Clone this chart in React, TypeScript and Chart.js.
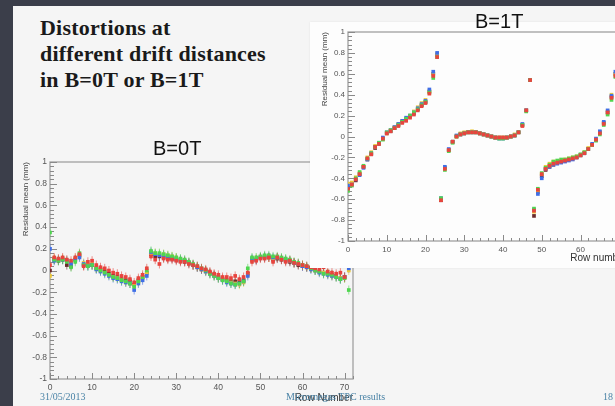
import React, { useEffect, useRef } from "react";
import { Chart, registerables } from "chart.js";
Chart.register(...registerables);

// ---------- data: B=0T (residual mean, mm, per row 0..71) ----------
const b0Red = [
  0.05, 0.12, 0.11, 0.12, 0.10, 0.09, 0.12, 0.15, 0.04, 0.08,
  0.09, 0.05, 0.03, 0.02, 0.00, -0.02, -0.03, -0.05, -0.06, -0.08,
  -0.11, -0.07, -0.04, 0.02, 0.13, 0.10, 0.06, 0.11, 0.10, 0.10,
  0.09, 0.08, 0.08, 0.06, 0.05, 0.04, 0.02, 0.01, -0.01, -0.03,
  -0.04, -0.06, -0.06, -0.07, -0.05, -0.08, -0.06, -0.02, 0.08, 0.09,
  0.11, 0.11, 0.12, 0.08, 0.12, 0.10, 0.08, 0.09, 0.07, 0.06,
  0.05, 0.04, 0.03, 0.02, 0.01, 0.03, -0.01, -0.02, -0.03, -0.02,
  -0.06, 0.05,
];
const b0Green = [
  0.35, 0.10, 0.09, 0.10, 0.08, 0.03, 0.08, 0.16, 0.05, 0.04,
  0.05, 0.02, 0.00, -0.02, -0.04, -0.06, -0.07, -0.09, -0.10, -0.12,
  -0.15, -0.10, -0.06, 0.00, 0.18, 0.16, 0.16, 0.15, 0.14, 0.13,
  0.12, 0.11, 0.10, 0.08, 0.06, 0.04, 0.02, 0.00, -0.03, -0.05,
  -0.07, -0.09, -0.10, -0.12, -0.13, -0.12, -0.10, 0.02, 0.12, 0.12,
  0.13, 0.14, 0.14, 0.13, 0.13, 0.12, 0.11, 0.10, 0.08, 0.07,
  0.05, 0.04, 0.02, 0.00, -0.01, -0.03, -0.03, -0.04, -0.06, -0.08,
  -0.07, -0.18,
];
const b0Blue = [
  0.20, 0.09, 0.10, 0.10, 0.09, 0.06, 0.10, 0.12, 0.06, 0.04,
  0.05, 0.01, -0.01, -0.03, -0.05, -0.07, -0.08, -0.10, -0.11, -0.12,
  -0.18, -0.12, -0.09, -0.05, 0.17, 0.15, 0.14, 0.14, 0.13, 0.12,
  0.11, 0.10, 0.09, 0.07, 0.05, 0.03, 0.01, -0.01, -0.03, -0.05,
  -0.07, -0.09, -0.11, -0.12, -0.13, -0.12, -0.10, -0.05, 0.11, 0.10,
  0.12, 0.13, 0.13, 0.12, 0.12, 0.11, 0.10, 0.09, 0.07, 0.06,
  0.04, 0.03, 0.01, 0.00, -0.02, -0.03, -0.04, -0.05, -0.06, -0.08,
  -0.06, 0.02,
];
const b0Yellow = [
  -0.05, 0.11, 0.10, 0.11, 0.09, 0.07, 0.11, 0.13, 0.07, 0.05,
  0.06, 0.02, 0.00, -0.02, -0.04, -0.06, -0.07, -0.09, -0.11, -0.12,
  -0.14, -0.11, -0.07, -0.02, 0.16, 0.16, 0.15, 0.15, 0.14, 0.13,
  0.12, 0.10, 0.09, 0.07, 0.05, 0.03, 0.01, -0.01, -0.03, -0.05,
  -0.07, -0.08, -0.10, -0.11, -0.12, -0.13, -0.11, -0.04, 0.10, 0.11,
  0.12, 0.13, 0.12, 0.11, 0.12, 0.11, 0.10, 0.09, 0.07, 0.06,
  0.05, 0.03, 0.02, 0.00, -0.01, -0.02, -0.03, -0.05, -0.06, -0.07,
  -0.07, 0.00,
];
const b0Dark = [
  0.00, 0.10, 0.09, 0.10, 0.05, 0.04, 0.10, 0.14, 0.05, 0.05,
  0.05, 0.02, 0.01, -0.01, -0.03, -0.05, -0.06, -0.08, -0.09, -0.10,
  -0.13, -0.09, -0.06, -0.02, 0.15, 0.13, 0.13, 0.12, 0.11, 0.11,
  0.10, 0.09, 0.08, 0.07, 0.05, 0.03, 0.01, 0.00, -0.02, -0.04,
  -0.06, -0.08, -0.09, -0.10, -0.10, -0.10, -0.09, -0.03, 0.10, 0.10,
  0.12, 0.12, 0.12, 0.10, 0.11, 0.10, 0.09, 0.08, 0.07, 0.05,
  0.04, 0.03, 0.02, 0.01, -0.01, -0.02, -0.03, -0.04, -0.05, -0.07,
  -0.06, 0.08,
];

// ---------- data: B=1T (residual mean, mm, per row 0..69) ----------
const b1Red = [
  -0.50, -0.46, -0.41, -0.36, -0.29, -0.21, -0.17, -0.10, -0.07, -0.02,
  0.03, 0.05, 0.08, 0.10, 0.13, 0.15, 0.18, 0.21, 0.25, 0.29,
  0.32, 0.41, 0.58, 0.76, -0.61, -0.31, -0.13, -0.05, 0.00, 0.02,
  0.03, 0.04, 0.04, 0.04, 0.03, 0.02, 0.01, 0.00, -0.01, -0.01,
  -0.01, -0.01, 0.00, 0.01, 0.04, 0.10, 0.25, 0.54, -0.71, -0.51,
  -0.36, -0.31, -0.28, -0.26, -0.25, -0.24, -0.23, -0.22, -0.21, -0.20,
  -0.18, -0.16, -0.12, -0.08, -0.03, 0.03, 0.12, 0.23, 0.37, 0.58,
];
const b1Green = [
  -0.52, -0.47, -0.40, -0.34, -0.28, -0.21, -0.16, -0.10, -0.06, -0.03,
  0.04, 0.06, 0.08, 0.11, 0.14, 0.17, 0.20, 0.23, 0.26, 0.30,
  0.33, 0.42, 0.56, 0.76, -0.59, -0.32, -0.14, -0.06, 0.00, 0.02,
  0.03, 0.04, 0.04, 0.04, 0.03, 0.02, 0.01, 0.00, -0.01, -0.02,
  -0.02, -0.01, 0.00, 0.01, 0.04, 0.11, 0.24, 0.54, -0.69, -0.50,
  -0.35, -0.30, -0.27, -0.24, -0.23, -0.22, -0.22, -0.21, -0.20, -0.19,
  -0.17, -0.15, -0.12, -0.08, -0.04, 0.02, 0.11, 0.21, 0.35, 0.57,
];
const b1Blue = [
  -0.47, -0.46, -0.41, -0.37, -0.30, -0.22, -0.16, -0.10, -0.06, -0.01,
  0.04, 0.06, 0.09, 0.12, 0.15, 0.18, 0.20, 0.23, 0.27, 0.31,
  0.34, 0.45, 0.62, 0.80, -0.59, -0.29, -0.12, -0.05, 0.01, 0.02,
  0.03, 0.04, 0.04, 0.04, 0.03, 0.02, 0.01, 0.00, -0.01, -0.02,
  -0.02, -0.01, 0.00, 0.01, 0.04, 0.12, 0.25, 0.54, -0.70, -0.55,
  -0.40, -0.31, -0.29, -0.27, -0.26, -0.25, -0.24, -0.23, -0.22, -0.20,
  -0.18, -0.16, -0.12, -0.07, -0.02, 0.05, 0.14, 0.25, 0.39, 0.62,
];
const b1Yellow = [
  -0.45, -0.44, -0.39, -0.35, -0.29, -0.20, -0.15, -0.09, -0.06, -0.02,
  0.03, 0.06, 0.09, 0.12, 0.15, 0.17, 0.20, 0.24, 0.28, 0.32,
  0.35, 0.43, 0.60, 0.79, -0.60, -0.30, -0.13, -0.05, 0.00, 0.03,
  0.04, 0.04, 0.05, 0.04, 0.03, 0.02, 0.01, 0.00, -0.01, -0.01,
  -0.01, -0.01, 0.00, 0.02, 0.04, 0.11, 0.25, 0.54, -0.72, -0.52,
  -0.36, -0.29, -0.26, -0.24, -0.24, -0.23, -0.22, -0.21, -0.20, -0.19,
  -0.18, -0.15, -0.11, -0.08, -0.03, 0.04, 0.13, 0.24, 0.40, 0.60,
];
const b1Dark = [
  -0.49, -0.45, -0.42, -0.36, -0.29, -0.22, -0.17, -0.11, -0.07, -0.02,
  0.03, 0.05, 0.08, 0.11, 0.14, 0.16, 0.19, 0.22, 0.26, 0.30,
  0.33, 0.43, 0.60, 0.78, -0.61, -0.30, -0.13, -0.05, 0.00, 0.02,
  0.03, 0.04, 0.04, 0.04, 0.03, 0.02, 0.01, 0.00, -0.01, -0.01,
  -0.01, -0.01, 0.00, 0.01, 0.04, 0.11, 0.25, 0.54, -0.76, -0.53,
  -0.38, -0.32, -0.29, -0.27, -0.25, -0.24, -0.23, -0.22, -0.21, -0.20,
  -0.18, -0.16, -0.12, -0.08, -0.03, 0.04, 0.13, 0.23, 0.38, 0.60,
];

// ---------- axis ticks / labels ----------
const xTickValues = [0, 10, 20, 30, 40, 50, 60, 70];
const yTickValues = [-1, -0.8, -0.6, -0.4, -0.2, 0, 0.2, 0.4, 0.6, 0.8, 1];
const xRange = [0, 72];
const yRange = [-1, 1];
const yTitle = "Residual mean (mm)";
const xTitleLeft = "Row Number";
const xTitleRight = "Row number";

const COLORS = {
  red: "#e8443e",
  green: "#4fd64f",
  blue: "#3f6ee6",
  yellow: "#ecc93a",
  dark: "#6a2c2c",
};

const rootFrame = {
  id: "rootFrame",
  beforeDatasetsDraw(chart: any) {
    const { ctx, chartArea: a, scales } = chart;
    const x = scales.x;
    const y = scales.y;
    ctx.save();
    ctx.strokeStyle = "#a0a0a0";
    ctx.lineWidth = 1.3;
    ctx.strokeRect(a.left, a.top, a.right - a.left, a.bottom - a.top);
    ctx.strokeStyle = "#8a8a8a";
    ctx.lineWidth = 1;
    ctx.beginPath();
    for (let v = x.min; v <= x.max + 1e-6; v += 2) {
      const px = Math.round(x.getPixelForValue(v)) + 0.5;
      const len = Math.abs(v % 10) < 1e-6 ? 6 : 3;
      ctx.moveTo(px, a.bottom);
      ctx.lineTo(px, a.bottom - len);
    }
    for (let i = 0; i <= 50; i++) {
      const v = y.min + i * 0.04;
      const py = Math.round(y.getPixelForValue(v)) + 0.5;
      const len = i % 5 === 0 ? 7 : 4;
      ctx.moveTo(a.left, py);
      ctx.lineTo(a.left + len, py);
    }
    ctx.stroke();
    ctx.restore();
  },
};

type Series = { values: (number | null)[]; color: string };

function buildDatasets(series: Series[], errBars: boolean) {
  const sets: any[] = [];
  series.forEach((s) => {
    const pts = s.values.map((v, i) => (v === null ? null : { x: i, y: v }));
    sets.push({
      data: pts,
      pointStyle: "rect",
      pointRadius: 2.6,
      pointBackgroundColor: s.color,
      pointBorderWidth: 0,
      showLine: false,
      order: 1,
    });
    if (errBars) {
      sets.push({
        data: pts,
        pointStyle: "line",
        rotation: 90,
        pointRadius: 4.5,
        pointBorderColor: s.color + "99",
        pointBorderWidth: 1,
        showLine: false,
        order: 2,
      });
    }
  });
  return sets;
}

function makeOptions(p: {
  yWidth: number;
  xHeight: number;
  padTop: number;
  padRight: number;
  yTitlePad: number;
  xTitlePadBottom: number;
  xTitle: string;
  tickFont: number;
}) {
  return {
    responsive: false,
    animation: false as const,
    layout: { padding: { top: p.padTop, right: p.padRight, left: 0, bottom: 0 } },
    plugins: { legend: { display: false }, tooltip: { enabled: false } },
    scales: {
      x: {
        type: "linear" as const,
        min: xRange[0],
        max: xRange[1],
        afterBuildTicks: (s: any) => {
          s.ticks = xTickValues.map((v) => ({ value: v }));
        },
        afterFit: (s: any) => {
          s.height = p.xHeight;
        },
        grid: { display: false, drawTicks: false },
        border: { display: false },
        ticks: {
          autoSkip: false,
          maxRotation: 0,
          padding: 4,
          color: "#555",
          font: { family: "Liberation Sans, Arial, sans-serif", size: p.tickFont },
          callback: (v: any) => String(v),
        },
        title: {
          display: true,
          text: p.xTitle,
          align: "end" as const,
          color: "#333",
          padding: { top: 0, bottom: p.xTitlePadBottom },
          font: { family: "Liberation Sans, Arial, sans-serif", size: 10 },
        },
      },
      y: {
        type: "linear" as const,
        min: yRange[0],
        max: yRange[1],
        afterBuildTicks: (s: any) => {
          s.ticks = yTickValues.map((v) => ({ value: v }));
        },
        afterFit: (s: any) => {
          s.width = p.yWidth;
        },
        grid: { display: false, drawTicks: false },
        border: { display: false },
        ticks: {
          autoSkip: false,
          padding: 3,
          color: "#555",
          font: { family: "Liberation Sans, Arial, sans-serif", size: p.tickFont },
          callback: (v: any) => String(Number(Number(v).toFixed(1))),
        },
        title: {
          display: true,
          text: yTitle,
          align: "end" as const,
          color: "#444",
          padding: { top: p.yTitlePad, bottom: 0 },
          font: { family: "Liberation Sans, Arial, sans-serif", size: 8 },
        },
      },
    },
  };
}

function ScatterPlot(props: {
  series: Series[];
  errBars: boolean;
  width: number;
  height: number;
  opts: any;
  style: React.CSSProperties;
}) {
  const ref = useRef<HTMLCanvasElement | null>(null);
  useEffect(() => {
    if (!ref.current) return;
    const chart = new Chart(ref.current, {
      type: "scatter",
      data: { datasets: buildDatasets(props.series, props.errBars) },
      options: props.opts,
      plugins: [rootFrame],
    } as any);
    return () => chart.destroy();
  }, []);
  return (
    <canvas
      ref={ref}
      width={props.width}
      height={props.height}
      style={{ position: "absolute", display: "block", ...props.style }}
    />
  );
}

export default function App() {
  const seriesB0: Series[] = [
    { values: b0Red, color: COLORS.red },
    { values: b0Green, color: COLORS.green },
    { values: b0Blue, color: COLORS.blue },
    { values: b0Yellow, color: COLORS.yellow },
    { values: b0Dark, color: COLORS.dark },
  ];
  const seriesB1: Series[] = [
    { values: b1Red, color: COLORS.red },
    { values: b1Green, color: COLORS.green },
    { values: b1Blue, color: COLORS.blue },
    { values: b1Yellow, color: COLORS.yellow },
    { values: b1Dark, color: COLORS.dark },
  ];

  const leftOpts = makeOptions({
    yWidth: 32,
    xHeight: 27,
    padTop: 12,
    padRight: 10,
    yTitlePad: 3,
    xTitlePadBottom: 2,
    xTitle: xTitleLeft,
    tickFont: 8.5,
  });
  const rightOpts = makeOptions({
    yWidth: 38,
    xHeight: 27,
    padTop: 10,
    padRight: 5,
    yTitlePad: 10,
    xTitlePadBottom: 4,
    xTitle: xTitleRight,
    tickFont: 8,
  });

  const footer: React.CSSProperties = {
    position: "absolute",
    top: 391,
    fontFamily: "Liberation Serif, serif",
    fontSize: 10,
    color: "#4a83a6",
    whiteSpace: "nowrap",
  };

  return (
    <div
      style={{
        position: "fixed",
        left: 0,
        top: 0,
        width: 615,
        height: 406,
        overflow: "hidden",
        background: "#3b3e4a",
      }}
    >
      <div
        style={{
          position: "absolute",
          left: 13,
          top: 6,
          width: 610,
          height: 410,
          background: "#f5f5f5",
        }}
      />
      <div
        style={{
          position: "absolute",
          left: 40,
          top: 15,
          fontFamily: "Liberation Serif, serif",
          fontWeight: "bold",
          fontSize: 22,
          letterSpacing: 0.2,
          lineHeight: "26px",
          color: "#1a1a1a",
          whiteSpace: "nowrap",
        }}
      >
        Distortions at
        <br />
        different drift distances
        <br />
        in B=0T or B=1T
      </div>

      <ScatterPlot
        series={seriesB0}
        errBars={true}
        width={345}
        height={256}
        opts={leftOpts}
        style={{ left: 18, top: 150 }}
      />
      <div
        style={{
          position: "absolute",
          left: 153,
          top: 138,
          fontFamily: "Liberation Sans, Arial, sans-serif",
          fontSize: 20,
          lineHeight: "20px",
          color: "#111",
        }}
      >
        B=0T
      </div>

      <div
        style={{
          position: "absolute",
          left: 310,
          top: 22,
          width: 330,
          height: 246,
          background: "#fdfdfd",
          boxShadow: "0 0 2px rgba(0,0,0,0.08)",
        }}
      >
        <ScatterPlot
          series={seriesB1}
          errBars={false}
          width={322}
          height={246}
          opts={rightOpts}
          style={{ left: 0, top: 0 }}
        />
      </div>
      <div
        style={{
          position: "absolute",
          left: 475,
          top: 11,
          fontFamily: "Liberation Sans, Arial, sans-serif",
          fontSize: 20,
          lineHeight: "20px",
          color: "#111",
        }}
      >
        B=1T
      </div>

      <div style={{ ...footer, left: 40 }}>31/05/2013</div>
      <div style={{ ...footer, left: 286 }}>Micromegas TPC results</div>
      <div style={{ ...footer, left: 603 }}>18</div>
    </div>
  );
}
